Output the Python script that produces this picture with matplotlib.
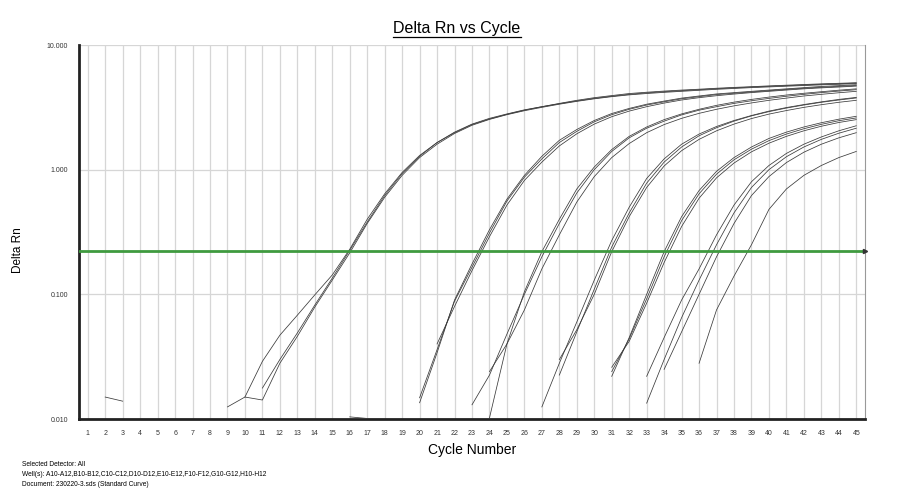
import matplotlib
matplotlib.use("Agg")
import matplotlib.pyplot as plt
from matplotlib.lines import Line2D

plt.rcParams['font.family'] = ['Liberation Sans', 'DejaVu Sans']

# ---------------- data ----------------
cycle_ticks = list(range(1, 46))
y_ticks = [0.01, 0.1, 1.0, 10.0]
y_tick_labels = ["0.010", "0.100", "1.000", "10.000"]
threshold = 0.222

# each amplification curve: first plotted cycle + Delta Rn values from there to cycle 45
g1a_start = 9
g1a = [0.0125, 0.015, 0.029, 0.047, 0.068, 0.099, 0.143, 0.23, 0.40, 0.64, 0.95, 1.3, 1.65,
       1.98, 2.3, 2.55, 2.78, 3.0, 3.2, 3.4, 3.6, 3.78, 3.93, 4.08, 4.18, 4.27, 4.35, 4.42,
       4.5, 4.57, 4.63, 4.7, 4.76, 4.82, 4.88, 4.93, 4.98]
g1b_start = 10
g1b = [0.015, 0.0142, 0.028, 0.046, 0.079, 0.13, 0.215, 0.37, 0.6, 0.9, 1.25, 1.6, 1.95,
       2.27, 2.53, 2.76, 2.97, 3.16, 3.35, 3.53, 3.7, 3.85, 3.98, 4.08, 4.17, 4.25, 4.33,
       4.41, 4.48, 4.55, 4.61, 4.67, 4.73, 4.79, 4.84, 4.9]
g1c_start = 11
g1c = [0.0177, 0.03, 0.049, 0.082, 0.135, 0.225, 0.38, 0.62, 0.93, 1.28, 1.65, 2.0, 2.32,
       2.58, 2.8, 3.02, 3.2, 3.38, 3.56, 3.73, 3.88, 4.02, 4.13, 4.22, 4.3, 4.38, 4.46, 4.53,
       4.6, 4.66, 4.72, 4.78, 4.84, 4.89, 4.95]

g2a_start = 20
g2a = [0.0135, 0.034, 0.09, 0.175, 0.33, 0.58, 0.9, 1.28, 1.72, 2.1, 2.48, 2.82, 3.1, 3.35,
       3.55, 3.75, 3.9, 4.05, 4.15, 4.25, 4.35, 4.45, 4.55, 4.65, 4.72, 4.8]
g2b_start = 20
g2b = [0.0148, 0.036, 0.088, 0.165, 0.31, 0.56, 0.87, 1.22, 1.65, 2.03, 2.42, 2.76, 3.05,
       3.3, 3.5, 3.7, 3.85, 4.0, 4.1, 4.2, 4.3, 4.4, 4.5, 4.58, 4.66, 4.73]
g2c_start = 21
g2c = [0.04, 0.08, 0.155, 0.29, 0.52, 0.82, 1.15, 1.55, 1.94, 2.32, 2.66, 2.95, 3.2, 3.42,
       3.62, 3.78, 3.92, 4.04, 4.15, 4.25, 4.35, 4.45, 4.53, 4.6, 4.68]

g3a_start = 23
g3a = [0.013, 0.0225, 0.048, 0.1, 0.2, 0.37, 0.65, 1.0, 1.4, 1.8, 2.15, 2.45, 2.75, 3.0,
       3.2, 3.4, 3.57, 3.73, 3.88, 4.02, 4.15, 4.27, 4.38]
g3b_start = 24
g3b = [0.0102, 0.04, 0.105, 0.22, 0.4, 0.7, 1.05, 1.45, 1.85, 2.2, 2.52, 2.8, 3.05, 3.28,
       3.48, 3.66, 3.82, 3.97, 4.1, 4.22, 4.34, 4.45]
g3c_start = 24
g3c = [0.024, 0.04, 0.075, 0.16, 0.3, 0.55, 0.88, 1.25, 1.62, 1.98, 2.3, 2.58, 2.83, 3.05,
       3.25, 3.43, 3.6, 3.75, 3.9, 4.02, 4.14, 4.25]

g4a_start = 27
g4a = [0.0125, 0.028, 0.06, 0.13, 0.27, 0.5, 0.85, 1.22, 1.6, 1.93, 2.22, 2.48, 2.72, 2.95,
       3.15, 3.33, 3.5, 3.66, 3.8]
g4b_start = 28
g4b = [0.0225, 0.05, 0.11, 0.24, 0.45, 0.78, 1.15, 1.52, 1.87, 2.17, 2.45, 2.7, 2.92, 3.12,
       3.3, 3.47, 3.62, 3.76]
g4c_start = 28
g4c = [0.03, 0.052, 0.1, 0.22, 0.42, 0.72, 1.07, 1.42, 1.75, 2.05, 2.32, 2.57, 2.79, 2.98,
       3.16, 3.32, 3.47, 3.6]

g5a_start = 31
g5a = [0.022, 0.045, 0.1, 0.22, 0.42, 0.68, 0.97, 1.25, 1.52, 1.78, 2.0, 2.2, 2.38, 2.54, 2.68]
g5b_start = 31
g5b = [0.024, 0.044, 0.092, 0.2, 0.39, 0.64, 0.92, 1.2, 1.46, 1.71, 1.93, 2.13, 2.31, 2.47, 2.6]
g5c_start = 31
g5c = [0.026, 0.042, 0.085, 0.18, 0.35, 0.59, 0.86, 1.13, 1.39, 1.63, 1.85, 2.05, 2.23, 2.39, 2.52]

g6a_start = 33
g6a = [0.022, 0.045, 0.09, 0.16, 0.3, 0.52, 0.8, 1.08, 1.35, 1.6, 1.83, 2.05, 2.25]
g6b_start = 33
g6b = [0.0134, 0.03, 0.065, 0.13, 0.25, 0.45, 0.72, 1.0, 1.27, 1.52, 1.75, 1.96, 2.15]
g6c_start = 34
g6c = [0.025, 0.05, 0.1, 0.2, 0.37, 0.62, 0.88, 1.14, 1.38, 1.6, 1.8, 1.98]

g7a_start = 36
g7a = [0.028, 0.075, 0.14, 0.25, 0.48, 0.7, 0.9, 1.08, 1.25, 1.4]

noise1_start = 2
noise1 = [0.015, 0.0139]
noise2_start = 16
noise2 = [0.0104, 0.0101]

curves = [(g1a_start, g1a), (g1b_start, g1b), (g1c_start, g1c),
          (g2a_start, g2a), (g2b_start, g2b), (g2c_start, g2c),
          (g3a_start, g3a), (g3b_start, g3b), (g3c_start, g3c),
          (g4a_start, g4a), (g4b_start, g4b), (g4c_start, g4c),
          (g5a_start, g5a), (g5b_start, g5b), (g5c_start, g5c),
          (g6a_start, g6a), (g6b_start, g6b), (g6c_start, g6c),
          (g7a_start, g7a), (noise1_start, noise1), (noise2_start, noise2)]

# ---------------- figure ----------------
fig = plt.figure(figsize=(9, 5), dpi=100)
ax = fig.add_axes([79/900, 1-419/500, (865-79)/900, (419-45)/500])

for start, vals in curves:
    xs = list(range(start, start + len(vals)))
    ax.plot(xs, vals, color='#3a3a3a', lw=0.55, zorder=3)

ax.set_yscale('log')
ax.set_ylim(0.01, 10)
ax.set_xlim(0.5, 45.5)

ax.axhline(threshold, color='#3f9a3f', lw=2.0, zorder=4)
ax.plot([45.5], [threshold], marker='>', color='#333333', markersize=3,
        clip_on=False, zorder=5)

ax.set_xticks(cycle_ticks)
ax.set_xticklabels([str(c) for c in cycle_ticks])
ax.set_yticks(y_ticks)
ax.set_yticklabels(y_tick_labels)
ax.minorticks_off()
ax.tick_params(axis='both', length=0, labelsize=5, colors='#333333')
ax.tick_params(axis='x', pad=8)
ax.tick_params(axis='y', pad=8)

ax.grid(True, which='major', color='#d6d6d6', lw=0.9, zorder=1)
ax.set_axisbelow(True)

for s in ['left', 'bottom']:
    ax.spines[s].set_color('#222222')
    ax.spines[s].set_linewidth(2.0)
ax.spines['top'].set_visible(False)
ax.spines['right'].set_color('#999999')
ax.spines['right'].set_linewidth(0.8)

fig.text(0.0204, 0.50, "Delta Rn", rotation=90, ha='center', va='center', fontsize=8.5)
fig.text(472/900, 1-450/500, "Cycle Number", ha='center', va='center', fontsize=10)

title = fig.text(457/900, 1-28/500, "Delta Rn vs Cycle", ha='center', va='center',
                 fontsize=11.5)

fig.text(22/900, 1-465/500, "Selected Detector: All", fontsize=4.8, va='center')
fig.text(22/900, 1-475/500,
         "Well(s): A10-A12,B10-B12,C10-C12,D10-D12,E10-E12,F10-F12,G10-G12,H10-H12",
         fontsize=4.8, va='center')
fig.text(22/900, 1-485/500, "Document: 230220-3.sds (Standard Curve)", fontsize=4.8,
         va='center')

# underline for the title
fig.canvas.draw()
bb = title.get_window_extent(renderer=fig.canvas.get_renderer())
bbf = bb.transformed(fig.transFigure.inverted())
uy = bbf.y0 - 1.0/500
fig.add_artist(Line2D([bbf.x0, bbf.x1], [uy, uy], color='black', lw=0.9,
                      transform=fig.transFigure))

fig.savefig("out.png", dpi=100)
